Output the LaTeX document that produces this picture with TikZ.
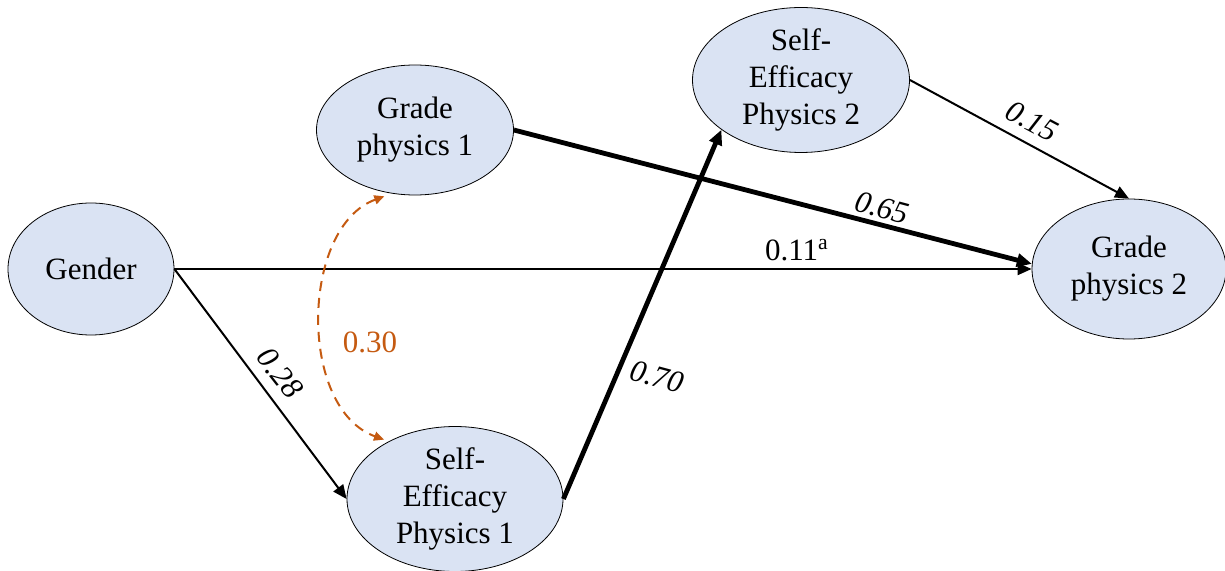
\documentclass[tikz,border=0pt]{standalone}
\usepackage{fontspec}
\setmainfont{Liberation Serif}
\usetikzlibrary{positioning, arrows.meta, shapes.geometric}
\definecolor{latentfill}{RGB}{218,227,243}
\definecolor{corr}{RGB}{197,90,17}

\begin{document}
\begin{tikzpicture}[x=0.5pt, y=-0.5pt,
      font=\fontsize{15.5}{18.5}\selectfont,
      var/.style={draw, ellipse, thin, fill=latentfill, inner sep=0pt, align=center},
      path/.style={-{Triangle[length=7pt, width=6pt]}, line width=1pt},
      strong/.style={-{Triangle[length=7.5pt, width=6.5pt]}, line width=2.4pt},
      coef/.style={font=\fontsize{15.5}{18.5}\selectfont\itshape, inner sep=1pt}
    ]
    \useasboundingbox (0,0) rectangle (1225,571);

    % Variables
    \node[var, minimum width=83pt, minimum height=66pt] (gender) at (91,269) {Gender};
    \node[var, minimum width=98.5pt, minimum height=65pt] (gradeone) at (415,130) {Grade\\physics 1};
    \node[var, minimum width=108pt, minimum height=71pt] (selfone) at (455,499) {Self-\\Efficacy\\Physics 1};
    \node[var, minimum width=108.5pt, minimum height=67pt] (selftwo) at (801,80) {Self-\\Efficacy\\Physics 2};
    \node[var, minimum width=97pt, minimum height=70pt] (gradetwo) at (1129,269) {Grade\\physics 2};

    % Paths
    \draw[path] (gender.east) -- (gradetwo.west);
    \draw[path] (gender.east) -- (selfone.west);
    \draw[strong] (gradeone.east) -- (gradetwo.177);
    \draw[strong] (selfone.east) -- (selftwo.212);
    \draw[path] (selftwo.east) -- (gradetwo.north);

    % Correlation
    \draw[corr, dashed, line width=1pt, dash pattern=on 5pt off 3.5pt,
          {Triangle[length=5pt, width=4.5pt]}-{Triangle[length=5pt, width=4.5pt]},
          shorten <=4pt, shorten >=2.5pt]
      (gradeone.250) to[out=200, in=160] (selfone.139);

    % Coefficients
    \node[coef, rotate=-15] (c65) at (882,208) {0.65};
    \node[inner sep=1pt] (c11) at (797,250) {0.11\textsuperscript{a}};
    \node[coef, rotate=-52] (c28) at (280,373) {0.28};
    \node[coef, rotate=-15] (c70) at (657,377) {0.70};
    \node[coef, rotate=-28] (c15) at (1032,121) {0.15};
    \node[text=corr, inner sep=1pt] (c30) at (370,342) {0.30};
  \end{tikzpicture}
\end{document}
